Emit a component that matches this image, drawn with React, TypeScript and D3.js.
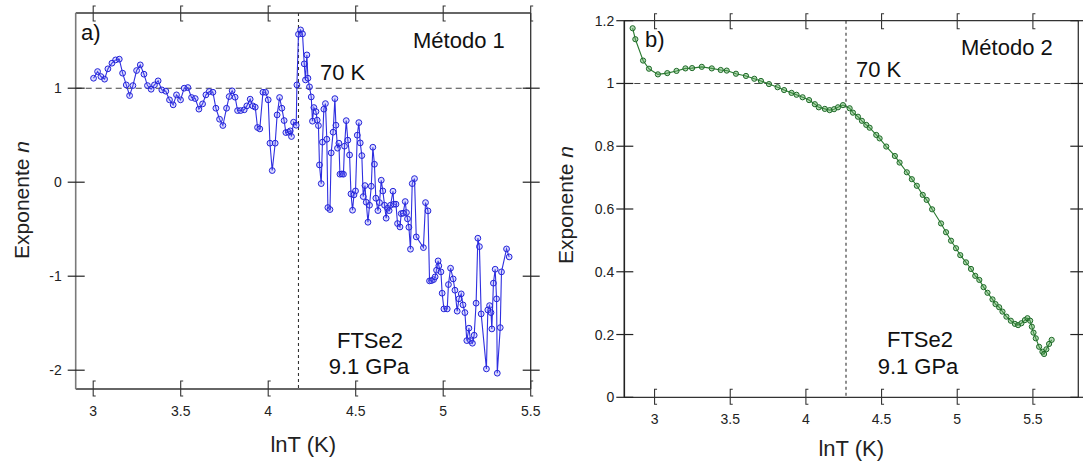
import React from "react";
import * as d3 from "d3";

// ---------- Panel a) data (Método 1) ----------
const aLnT = [
  3.002, 3.025, 3.044, 3.065, 3.084, 3.107, 3.128, 3.149, 3.168, 3.189, 3.208, 3.227, 3.248, 3.269, 3.29, 3.31,
  3.331, 3.35, 3.371, 3.392, 3.415, 3.436, 3.457, 3.476, 3.499, 3.52, 3.541, 3.562, 3.583, 3.604, 3.625, 3.644,
  3.663, 3.684, 3.701, 3.722, 3.741, 3.762, 3.777, 3.794, 3.811, 3.825, 3.842, 3.863, 3.878, 3.897, 3.912, 3.926,
  3.939, 3.952, 3.97, 3.985, 4.0, 4.01, 4.023, 4.04, 4.051, 4.065, 4.078, 4.091, 4.101, 4.116, 4.126, 4.133,
  4.145, 4.16, 4.164,
  4.173, 4.185, 4.196, 4.206, 4.213, 4.221, 4.227, 4.236, 4.246, 4.253, 4.261, 4.273, 4.28, 4.287, 4.293, 4.303,
  4.31, 4.318, 4.327, 4.335, 4.341, 4.353, 4.36, 4.371, 4.381, 4.387, 4.396, 4.404, 4.41, 4.421, 4.43, 4.436,
  4.446, 4.455, 4.465, 4.473, 4.482, 4.49, 4.499, 4.509, 4.518, 4.526, 4.535, 4.543, 4.553, 4.56, 4.57, 4.579,
  4.589, 4.598, 4.607, 4.615, 4.627, 4.636, 4.646, 4.655, 4.665, 4.674, 4.682, 4.691, 4.699, 4.713, 4.718, 4.73,
  4.739, 4.753, 4.76, 4.771, 4.783, 4.79, 4.796, 4.804, 4.813, 4.823, 4.836, 4.846, 4.887, 4.899, 4.913, 4.922,
  4.933, 4.945, 4.954, 4.962, 4.971, 4.975, 4.987, 4.994, 5.004, 5.023, 5.03, 5.042, 5.057, 5.067, 5.08, 5.09,
  5.103, 5.113, 5.124, 5.135, 5.147, 5.156, 5.167, 5.177, 5.188, 5.198, 5.207, 5.217, 5.247, 5.255, 5.265, 5.273,
  5.278, 5.287, 5.297, 5.305, 5.309, 5.326, 5.333, 5.362, 5.377,
];
const aN = [
  1.106, 1.177, 1.124, 1.096, 1.206, 1.266, 1.301, 1.309, 1.16, 1.035, 0.922, 1.028, 1.188, 1.248, 1.149, 1.028,
  0.989, 1.035, 1.078, 0.982, 0.968, 0.876, 0.823, 0.929, 0.876, 1.0, 1.007, 0.901, 0.89, 0.777, 0.833, 0.929,
  0.965, 0.957, 0.787, 0.67, 0.603, 0.787, 0.911, 0.972, 0.904, 0.762, 0.762, 0.77, 0.812, 0.883, 0.812, 0.798,
  0.582, 0.567, 0.957, 0.957, 0.876, 0.415, 0.124, 0.415, 0.716, 0.901, 0.787, 0.656, 0.528, 0.532, 0.546, 0.486,
  0.638, 0.606, 1.035,
  1.574, 1.62, 1.578, 1.259, 1.088, 1.354, 1.106, 1.014, 0.907, 0.649, 0.794, 0.751, 0.66, 0.602, 0.184, -0.015,
  0.426, 0.777, 0.836, 0.457, -0.27, -0.291, 0.312, 0.532, 0.889, 0.606, 0.362, 0.415, 0.085, 0.088, 0.085, 0.383,
  0.655, 0.447, 0.29, -0.124, -0.298, -0.135, -0.093, 0.5, 0.634, 0.418, 0.283, -0.153, -0.036, -0.213, -0.426, -0.245,
  -0.043, 0.372, 0.191, -0.17, -0.302, -0.217, 0.021, -0.093, -0.245, -0.383, -0.277, -0.302, -0.245, -0.096, -0.234, -0.234,
  -0.44, -0.476, -0.334, -0.33, -0.206, -0.323, -0.39, -0.479, -0.713, -0.015, 0.038, -0.582, -0.696, -0.217, -0.305, -1.05,
  -1.047, -1.036, -1.007, -0.936, -0.837, -0.89, -0.954, -1.181, -1.348, -1.348, -1.089, -0.915, -1.029, -1.149, -1.372, -1.241,
  -1.188, -1.305, -1.387, -1.685, -1.553, -1.685, -1.713, -1.628, -1.287, -0.596, -0.685, -1.401, -1.986, -1.359, -1.313, -1.387,
  -1.561, -1.074, -0.926, -1.241, -2.032, -1.547, -0.954, -0.71, -0.795,
];

// ---------- Panel b) data (Método 2) ----------
const bLnT = [
  2.855, 2.873, 2.924, 2.963, 3.022, 3.084, 3.145, 3.204, 3.248, 3.312, 3.378, 3.437, 3.477, 3.538, 3.604, 3.659,
  3.703, 3.756, 3.813, 3.856, 3.905, 3.938, 3.978, 4.021, 4.059, 4.085, 4.125, 4.157, 4.186, 4.212, 4.245, 4.289,
  4.311, 4.344, 4.37, 4.399, 4.421, 4.465, 4.487, 4.531, 4.588, 4.619, 4.667, 4.7, 4.733, 4.772, 4.798, 4.834,
  4.893, 4.926, 4.959, 4.992, 5.02, 5.058, 5.091, 5.119, 5.146, 5.174, 5.2, 5.233, 5.253, 5.277, 5.299, 5.325,
  5.354, 5.381, 5.402, 5.424, 5.447, 5.464, 5.482, 5.493, 5.504, 5.519, 5.541, 5.563, 5.574, 5.589, 5.607, 5.624,
];
const bN = [
  1.176, 1.141, 1.073, 1.047, 1.029, 1.033, 1.04, 1.048, 1.049, 1.053, 1.048, 1.043, 1.041, 1.031, 1.024, 1.015,
  1.008, 0.998, 0.988, 0.979, 0.97, 0.964, 0.956, 0.947, 0.934, 0.924, 0.919, 0.915, 0.918, 0.924, 0.931, 0.921,
  0.907, 0.894, 0.881, 0.868, 0.859, 0.836, 0.825, 0.799, 0.769, 0.748, 0.717, 0.695, 0.674, 0.645, 0.629, 0.599,
  0.554, 0.526, 0.499, 0.475, 0.453, 0.43, 0.409, 0.387, 0.374, 0.351, 0.333, 0.312, 0.297, 0.287, 0.273, 0.257,
  0.244, 0.234, 0.23, 0.236, 0.246, 0.252, 0.244, 0.225, 0.206, 0.188, 0.161, 0.145, 0.138, 0.153, 0.17, 0.183,
];

// ---------- Ticks / labels ----------
const xTicks = [3, 3.5, 4, 4.5, 5, 5.5];
const aYTicks = [-2, -1, 0, 1];
const bYTicks = [0, 0.2, 0.4, 0.6, 0.8, 1, 1.2];
const aVLine = 4.173;
const bVLine = 4.265;
const hLine = 1;

const FONT = "'Liberation Sans', Arial, Helvetica, sans-serif";

type PanelProps = {
  x: d3.ScaleLinear<number, number>;
  y: d3.ScaleLinear<number, number>;
  xs: number[];
  ys: number[];
  yTicks: number[];
  yFmt: (v: number) => string;
  yLabelGap: number;
  leftAxisColor: string;
  lineColor: string;
  markerStroke: string;
  markerFill: string;
  markerR: number;
  vLine: number;
  xLabelY: number;
  titleY: number;
  yTitleX: number;
  yTitleY: number;
  children?: React.ReactNode;
};

function Panel(p: PanelProps) {
  const [x0, x1] = p.x.range();
  const [yb, yt] = p.y.range();
  const pts = p.xs.map((v, i) => [v, p.ys[i]] as [number, number]);
  const line = d3
    .line<[number, number]>()
    .x((d) => p.x(d[0]))
    .y((d) => p.y(d[1]));
  const bracket = (xx: number, ya: number, yz: number) => `M${xx + 2.5},${ya} H${xx} V${yz} H${xx + 2.5}`;
  return (
    <g>
      {/* reference lines */}
      <line x1={x0} x2={x1} y1={p.y(hLine)} y2={p.y(hLine)} stroke="#444" strokeWidth={1.1} strokeDasharray="6,4" />
      <line x1={p.x(p.vLine)} x2={p.x(p.vLine)} y1={yt} y2={yb} stroke="#333" strokeWidth={1.1} strokeDasharray="3,3" />
      {/* data */}
      <path d={line(pts) || ""} fill="none" stroke={p.lineColor} strokeWidth={1.1} />
      {pts.map((d, i) => (
        <circle key={i} cx={p.x(d[0])} cy={p.y(d[1])} r={p.markerR} fill={p.markerFill} stroke={p.markerStroke} strokeWidth={1} />
      ))}
      {/* frame */}
      <line x1={x0} x2={x1} y1={yt} y2={yt} stroke="#333" strokeWidth={1.3} />
      <line x1={x0} x2={x1} y1={yb} y2={yb} stroke="#333" strokeWidth={1.3} />
      <line x1={x1} x2={x1} y1={yt} y2={yb} stroke="#333" strokeWidth={1.3} />
      <line x1={x0} x2={x0} y1={yt} y2={yb} stroke={p.leftAxisColor} strokeWidth={1.6} />
      {/* x ticks top & bottom */}
      {xTicks.map((t) => (
        <g key={"xt" + t}>
          <path d={bracket(p.x(t), yb - 8, yb + 7)} fill="none" stroke="#333" strokeWidth={1.1} />
          <path d={bracket(p.x(t), yt - 7, yt + 8)} fill="none" stroke="#333" strokeWidth={1.1} />
          <text x={p.x(t)} y={p.xLabelY} textAnchor="middle" fontSize={14} fontFamily={FONT} fill="#222">
            {String(t)}
          </text>
        </g>
      ))}
      {/* y ticks left & right */}
      {p.yTicks.map((t) => (
        <g key={"yt" + t}>
          <line x1={x0 - 8} x2={x0 + 9} y1={p.y(t)} y2={p.y(t)} stroke="#222" strokeWidth={1.2} />
          <line x1={x1 - 8} x2={x1 + 9} y1={p.y(t)} y2={p.y(t)} stroke="#222" strokeWidth={1.2} />
          <text x={x0 - p.yLabelGap} y={p.y(t) + 5} textAnchor="end" fontSize={14} fontFamily={FONT} fill="#222">
            {p.yFmt(t)}
          </text>
        </g>
      ))}
      {/* axis titles */}
      <text x={(x0 + x1) / 2} y={p.titleY} textAnchor="middle" fontSize={22} fontFamily={FONT} fill="#222">
        lnT (K)
      </text>
      <text
        transform={`translate(${p.yTitleX},${p.yTitleY}) rotate(-90)`}
        textAnchor="middle"
        fontSize={21}
        fontFamily={FONT}
        fill="#222"
      >
        Exponente <tspan fontStyle="italic">n</tspan>
      </text>
      {p.children}
    </g>
  );
}

export default function App() {
  const xA = d3.scaleLinear().domain([2.9, 5.5]).range([75.7, 530.7]);
  const yA = d3.scaleLinear().domain([-2.2, 1.8]).range([389, 13]);
  const xB = d3.scaleLinear().domain([2.8, 5.8]).range([624.3, 1078.3]);
  const yB = d3.scaleLinear().domain([0, 1.2]).range([397.3, 20.7]);
  const fmtA = (v: number) => (v < 0 ? "-" + Math.abs(v) : String(v));
  const fmtB = (v: number) => String(+v.toFixed(1));
  const txt = { fontFamily: FONT, fontSize: 22, fill: "#111" };

  return (
    <svg width={1083} height={467} style={{ position: "absolute", left: 0, top: 0, background: "#fff" }}>
      <rect x={0} y={0} width={1083} height={467} fill="#fff" />
      <Panel
        x={xA}
        y={yA}
        xs={aLnT}
        ys={aN}
        yTicks={aYTicks}
        yFmt={fmtA}
        yLabelGap={14}
        leftAxisColor="#7a7a7a"
        lineColor="#2f2fe0"
        markerStroke="#2323d8"
        markerFill="rgba(110,110,255,0.25)"
        markerR={2.9}
        vLine={aVLine}
        xLabelY={416}
        titleY={452}
        yTitleX={29}
        yTitleY={200}
      >
        <text x={81} y={40} {...txt}>a)</text>
        <text x={413} y={48} {...txt}>Método 1</text>
        <text x={320} y={80} {...txt}>70 K</text>
        <text x={370} y={348} textAnchor="middle" {...txt}>FTSe2</text>
        <text x={369} y={374} textAnchor="middle" {...txt}>9.1 GPa</text>
      </Panel>
      <Panel
        x={xB}
        y={yB}
        xs={bLnT}
        ys={bN}
        yTicks={bYTicks}
        yFmt={fmtB}
        yLabelGap={10}
        leftAxisColor="#222"
        lineColor="#2a7a30"
        markerStroke="#1e6a28"
        markerFill="rgba(90,170,90,0.45)"
        markerR={2.6}
        vLine={bVLine}
        xLabelY={424}
        titleY={456}
        yTitleX={573}
        yTitleY={205}
      >
        <text x={645} y={47} {...txt}>b)</text>
        <text x={961} y={55} {...txt}>Método 2</text>
        <text x={856} y={77} {...txt}>70 K</text>
        <text x={920} y={347} textAnchor="middle" {...txt}>FTSe2</text>
        <text x={918} y={374} textAnchor="middle" {...txt}>9.1 GPa</text>
      </Panel>
    </svg>
  );
}
